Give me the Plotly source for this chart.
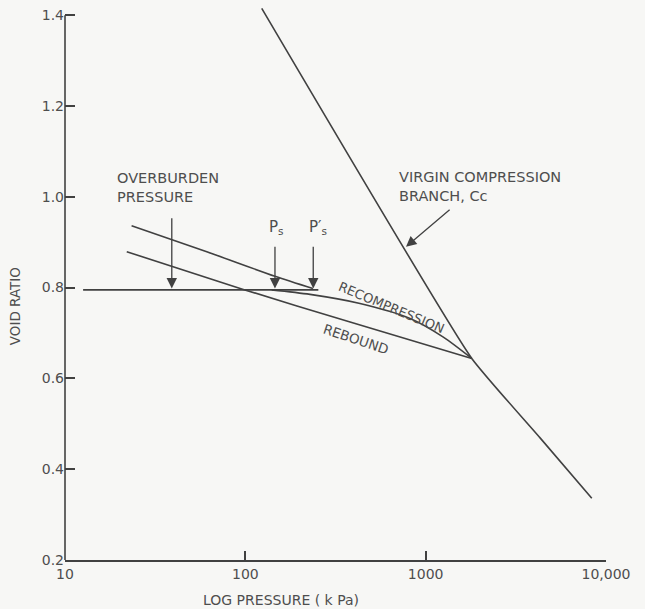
import numpy as np
import plotly.graph_objects as go

# e - log p consolidation curve, pressures in kPa
virgin_p = [123.3, 1802, 4310, 8340]
virgin_e = [1.415, 0.644, 0.469, 0.336]

level_p = [12.6, 254]
level_e = [0.795, 0.795]

upper_p = [23.4, 60, 146, 237]
upper_e = [0.936, 0.880, 0.825, 0.798]

rebound_p = [22.0, 97.4, 381, 1802]
rebound_e = [0.879, 0.796, 0.724, 0.644]

recomp_p = [140, 228.5, 432.5, 819, 1253, 1802]
recomp_e = [0.795, 0.785, 0.765, 0.732, 0.691, 0.644]

# marked pressures
overburden_p = 39.1
ps_p = 146
ps_prime_p = 238

x_tickvals = [10, 100, 1000, 10000]
x_ticktext = ["10", "100", "1000", "10,000"]
y_tickvals = [0.2, 0.4, 0.6, 0.8, 1.0, 1.2, 1.4]
y_ticktext = ["0.2", "0.4", "0.6", "0.8", "1.0", "1.2", "1.4"]

INK = "#414141"
TEXT = "#4e4e4e"
FONT = "DejaVu Sans"
LW = 1.6

fig = go.Figure()
for px_, ey, shape, sm in [(virgin_p, virgin_e, "spline", 0.4),
                           (level_p, level_e, "linear", 0),
                           (upper_p, upper_e, "spline", 0.8),
                           (rebound_p, rebound_e, "spline", 0.8),
                           (recomp_p, recomp_e, "spline", 0.8)]:
    fig.add_trace(go.Scatter(x=px_, y=ey, mode="lines",
                             line=dict(color=INK, width=LW, shape=shape,
                                       smoothing=sm),
                             hoverinfo="skip", showlegend=False))

lg = np.log10


def arrow(x_tip, y_tip, x_tail, y_tail):
    fig.add_annotation(x=lg(x_tip), y=y_tip, ax=lg(x_tail), ay=y_tail,
                       xref="x", yref="y", axref="x", ayref="y",
                       showarrow=True, arrowhead=2, arrowsize=1.6,
                       arrowwidth=1.3, arrowcolor=INK, text="")


arrow(overburden_p, 0.798, overburden_p, 0.956)
arrow(ps_p, 0.798, ps_p, 0.893)
arrow(ps_prime_p, 0.798, ps_prime_p, 0.893)
arrow(778, 0.89, 1384, 0.974)


def label(text, x, y, size=14, angle=0, xanchor="center"):
    fig.add_annotation(x=lg(x), y=y, xref="x", yref="y", text=text,
                       showarrow=False, textangle=angle, xanchor=xanchor,
                       yanchor="middle", align="left",
                       font=dict(family=FONT, size=size, color=TEXT))


label("OVERBURDEN<br>PRESSURE", 18.9, 1.021, size=14.5, xanchor="left")
label("VIRGIN COMPRESSION<br>BRANCH, Cc", 692, 1.022, size=14.5,
      xanchor="left")
label("P<sub>s</sub>", 149, 0.933, size=15)
label("P′<sub>s</sub>", 252, 0.933, size=15)
label("RECOMPRESSION", 643, 0.757, size=13, angle=22.6)
label("REBOUND", 411, 0.687, size=13.5, angle=18.5)

fig.add_annotation(x=-0.0924, y=0.759, xref="paper", yref="y",
                   xanchor="center", yanchor="middle",
                   text="VOID RATIO", textangle=-90, showarrow=False,
                   font=dict(family=FONT, size=13.5, color=TEXT))
fig.add_annotation(x=0.399, y=-0.0717, xref="paper", yref="paper",
                   xanchor="center", yanchor="middle",
                   text="LOG PRESSURE ( k Pa)", showarrow=False,
                   font=dict(family=FONT, size=14, color=TEXT))

# vertical axis line stops at the top tick
fig.add_shape(type="line", xref="paper", yref="y", x0=0, x1=0, y0=0.2, y1=1.4,
              line=dict(color=INK, width=LW))

fig.update_xaxes(type="log", range=[1, 4], tickvals=x_tickvals,
                 ticktext=x_ticktext, ticks="inside", ticklen=9,
                 tickwidth=LW, tickcolor=INK, showline=True, linecolor=INK,
                 linewidth=LW, showgrid=False, zeroline=False,
                 tickfont=dict(family=FONT, size=14, color=TEXT))
fig.update_yaxes(range=[0.2, 1.429], tickvals=y_tickvals,
                 ticktext=y_ticktext, ticks="inside", ticklen=10,
                 tickwidth=LW, tickcolor=INK, showline=False,
                 showgrid=False, zeroline=False,
                 tickfont=dict(family=FONT, size=14, color=TEXT))

fig.update_layout(width=645, height=609,
                  margin=dict(l=65, r=39, t=2, b=49),
                  paper_bgcolor="#f7f7f5", plot_bgcolor="#f7f7f5")

fig.write_html("out.html")
